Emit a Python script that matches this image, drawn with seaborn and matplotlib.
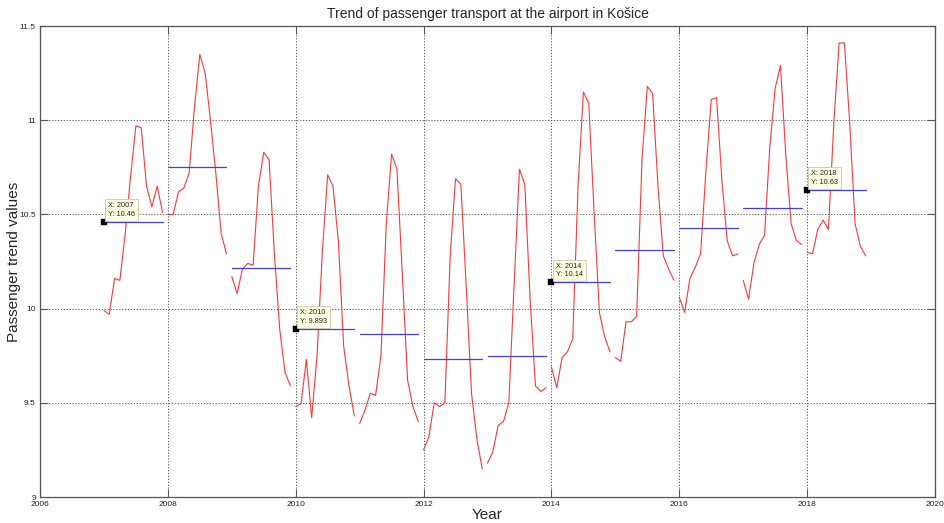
import matplotlib
matplotlib.use("Agg")
import matplotlib.pyplot as plt
import numpy as np
import pandas as pd
import seaborn as sns

# ---------------- data ----------------
years = [2007, 2008, 2009, 2010, 2011, 2012, 2013, 2014, 2015, 2016, 2017, 2018]
months = list(range(1, 13))

v2007 = [9.99, 9.97, 10.16, 10.15, 10.40, 10.70, 10.97, 10.96, 10.65, 10.54, 10.65, 10.51]
v2008 = [10.50, 10.50, 10.62, 10.64, 10.72, 11.07, 11.35, 11.25, 11.00, 10.72, 10.40, 10.29]
v2009 = [10.17, 10.08, 10.21, 10.24, 10.23, 10.65, 10.83, 10.79, 10.29, 9.89, 9.66, 9.59]
v2010 = [9.48, 9.495, 9.73, 9.42, 9.75, 10.30, 10.71, 10.65, 10.36, 9.80, 9.59, 9.43]
v2011 = [9.39, 9.46, 9.55, 9.54, 9.75, 10.45, 10.82, 10.74, 10.19, 9.62, 9.48, 9.40]
v2012 = [9.25, 9.32, 9.50, 9.48, 9.50, 10.28, 10.69, 10.66, 10.12, 9.55, 9.31, 9.15]
v2013 = [9.18, 9.24, 9.38, 9.40, 9.50, 10.13, 10.74, 10.66, 10.05, 9.59, 9.56, 9.58]
v2014 = [9.69, 9.58, 9.74, 9.77, 9.84, 10.65, 11.15, 11.09, 10.52, 9.98, 9.85, 9.77]
v2015 = [9.74, 9.72, 9.93, 9.93, 9.96, 10.79, 11.18, 11.14, 10.65, 10.28, 10.21, 10.15]
v2016 = [10.06, 9.98, 10.16, 10.22, 10.29, 10.73, 11.11, 11.12, 10.68, 10.36, 10.28, 10.29]
v2017 = [10.15, 10.05, 10.24, 10.34, 10.39, 10.86, 11.17, 11.29, 10.81, 10.45, 10.36, 10.34]
v2018 = [10.30, 10.29, 10.42, 10.47, 10.42, 10.98, 11.41, 11.41, 10.98, 10.45, 10.33, 10.28]

yearly_means = [10.46, 10.75, 10.215, 9.893, 9.865, 9.733, 9.75, 10.14, 10.31, 10.43, 10.535, 10.63]

tip_years = [2007, 2010, 2014, 2018]
tip_values = [10.46, 9.893, 10.14, 10.63]
tip_labels = ["10.46", "9.893", "10.14", "10.63"]

x_ticks = [2006, 2008, 2010, 2012, 2014, 2016, 2018, 2020]
y_ticks = [9, 9.5, 10, 10.5, 11, 11.5]
y_tick_labels = ["9", "9.5", "10", "10.5", "11", "11.5"]

title = "Trend of passenger transport at the airport in Košice"
x_label = "Year"
y_label = "Passenger trend values"

# ---------------- build tables ----------------
series = [v2007, v2008, v2009, v2010, v2011, v2012, v2013, v2014, v2015, v2016, v2017, v2018]
rows = []
for y, vals in zip(years, series):
    for m, v in zip(months, vals):
        rows.append((y, m, y + (m - 1) / 12.0, v))
df = pd.DataFrame(rows, columns=["Year", "Month", "Time", "Value"])

mrows = []
for y, mv in zip(years, yearly_means):
    mrows.append((y, y, mv))
    mrows.append((y, y + 11 / 12.0, mv))
dm = pd.DataFrame(mrows, columns=["Year", "Time", "Mean"])

dt = pd.DataFrame({"Time": tip_years, "Mean": tip_values})

# ---------------- plot ----------------
sns.set_style("ticks")
plt.rcParams["font.family"] = ["Liberation Sans", "DejaVu Sans"]

fig = plt.figure(figsize=(9.44, 5.23), dpi=100)
ax = fig.add_axes([40 / 944, (523 - 497) / 523, (935 - 40) / 944, (497 - 26) / 523])

sns.lineplot(data=df, x="Time", y="Value", units="Year", estimator=None,
             color="#ff3535", linewidth=0.8, ax=ax, legend=False)
sns.lineplot(data=dm, x="Time", y="Mean", units="Year", estimator=None,
             color="#3c3cff", linewidth=0.9, ax=ax, legend=False)
sns.scatterplot(data=dt, x="Time", y="Mean", marker="s", color="black",
                s=22, edgecolor="black", linewidth=0.3, ax=ax, legend=False, zorder=5)

for ty, tv, tl in zip(tip_years, tip_values, tip_labels):
    ax.annotate(f"X: {ty}\nY: {tl}", xy=(ty, tv), xytext=(3.0, 3.0),
                textcoords="offset points", ha="left", va="bottom",
                fontsize=5.3, color="#222222", linespacing=1.3, zorder=6,
                bbox=dict(boxstyle="square,pad=0.4", fc="#ffffe1", ec="#c8c8b4", lw=0.6))

ax.set_xlim(2006, 2020)
ax.set_ylim(9, 11.5)
ax.set_xticks(x_ticks)
ax.set_xticklabels([str(t) for t in x_ticks])
ax.set_yticks(y_ticks)
ax.set_yticklabels(y_tick_labels)

ax.grid(True, linestyle=(0, (1.5, 2)), color="#444444", linewidth=0.6)
ax.tick_params(axis="both", direction="in", length=6, width=0.8, color="#555555",
               labelsize=6, labelcolor="#222222", top=True, right=True, pad=3)
for sp in ax.spines.values():
    sp.set_visible(True)
    sp.set_color("#555555")
    sp.set_linewidth(0.9)

ax.set_title(title, fontsize=10, pad=6)
ax.set_xlabel(x_label, fontsize=11, va="top")
ax.xaxis.set_label_coords(0.5, (497 - 508) / 471)
ax.set_ylabel(y_label, fontsize=11, va="center")
ax.yaxis.set_label_coords((14 - 40) / 895, 0.5)

fig.savefig("out.png", dpi=100)
